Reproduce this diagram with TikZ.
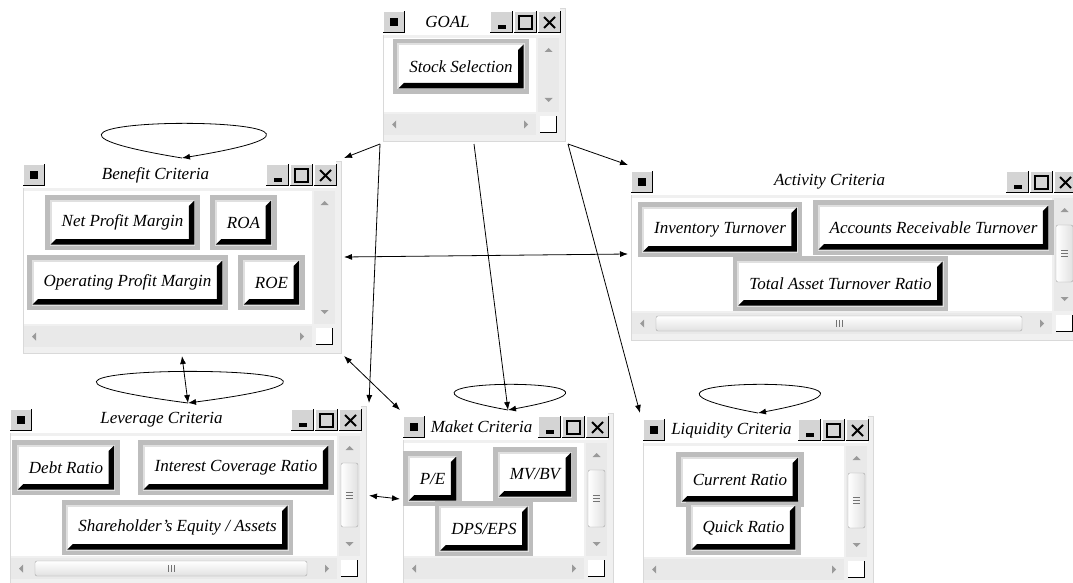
\documentclass[tikz,border=0pt]{standalone}
\usepackage{fontspec}
\setmainfont{Liberation Serif}
\usetikzlibrary{calc,positioning,arrows.meta}
\definecolor{winbg}{HTML}{F0F0F0}
\definecolor{winedge}{HTML}{D9D9D9}
\definecolor{barbg}{HTML}{E9E9E9}
\definecolor{btnface}{HTML}{D4D4D4}
\definecolor{cellgray}{HTML}{BDBDBD}
\definecolor{arrowgray}{HTML}{9A9A9A}

\begin{document}
\begin{tikzpicture}[x=1pt,y=-1pt,
    win/.style={draw=winedge, fill=winbg, inner sep=0pt, outer sep=3pt, anchor=north west},
    wintitle/.style={font=\fontsize{17}{19}\selectfont\itshape},
    cell/.style={fill=white, draw=black!12, line width=2pt, inner xsep=11pt, outer sep=0pt,
      minimum height=44pt, font=\fontsize{17}{19}\selectfont\itshape,
      preaction={draw=cellgray, line width=11pt}},
    link/.style={-{Latex[length=8pt,width=6pt]}, line width=0.8pt},
    both/.style={{Latex[length=8pt,width=6pt]}-{Latex[length=8pt,width=6pt]}, line width=0.8pt}]
  \useasboundingbox (0,0) rectangle (1073,583);
  \clip (0,0) rectangle (1073,583);
  \fill[white] (0,0) rectangle (1073,583);

  % windows with title bar and scroll bars
  \foreach \nm/\wx/\wy/\ww/\wh/\wt/\vs/\hs in {
      goal/380/5/182/133/GOAL/0/0,
      benefit/20/158/318/192/Benefit Criteria/0/0,
      activity/628/165/450/172/Activity Criteria/1/1,
      leverage/7/403/356/179/Leverage Criteria/1/1,
      maket/400/410/210/172/Maket Criteria/1/0,
      liquidity/640/413/230/170/Liquidity Criteria/1/0}
  {
    \node[win, minimum width=\ww, minimum height=\wh] (\nm) at (\wx,\wy) {};
    \begin{scope}[shift={(\wx,\wy)}]
      \fill[white] (2,2) rectangle (\ww-2,30);
      \fill[btnface] (3,6) rectangle (25,28);
      \draw[white, line width=1pt] (3.5,28) -- (3.5,6.5) -- (25,6.5);
      \draw[black, line width=1pt] (3,27.5) -- (24.5,27.5) -- (24.5,6);
      \fill[black] (10,13) rectangle (18,21);
      \foreach \k in {72,48,24} {
        \fill[btnface] (\ww-\k,6) rectangle (\ww-\k+23,28);
        \draw[white, line width=1pt] (\ww-\k+0.5,28) -- (\ww-\k+0.5,6.5) -- (\ww-\k+23,6.5);
        \draw[black, line width=1pt] (\ww-\k,27.5) -- (\ww-\k+22.5,27.5) -- (\ww-\k+22.5,6);
      }
      \fill[black] (\ww-64,20) rectangle (\ww-56,24);
      \draw[black, line width=1.5pt] (\ww-43,11) rectangle (\ww-30,24);
      \draw[black, line width=1.8pt] (\ww-18,12) -- (\ww-7,23) (\ww-7,12) -- (\ww-18,23);
      \node[wintitle] at (\ww/2-23.5,17) {\wt};
      \fill[white] (4,33) rectangle (\ww-26,\wh-26);
      \fill[barbg] (\ww-24,33) rectangle (\ww-3,\wh-26);
      \fill[barbg] (4,\wh-24) rectangle (\ww-26,\wh-3);
      \fill[arrowgray] (\ww-17.5,47) -- (\ww-9.5,47) -- (\ww-13.5,43) -- cycle;
      \fill[arrowgray] (\ww-17.5,\wh-40) -- (\ww-9.5,\wh-40) -- (\ww-13.5,\wh-36) -- cycle;
      \fill[arrowgray] (16,\wh-17.5) -- (16,\wh-9.5) -- (12,\wh-13.5) -- cycle;
      \fill[arrowgray] (\ww-38,\wh-17.5) -- (\ww-38,\wh-9.5) -- (\ww-34,\wh-13.5) -- cycle;
      \fill[white] (\ww-22,\wh-22) rectangle (\ww-5,\wh-5);
      \draw[black, line width=1pt] (\ww-22,\wh-5.5) -- (\ww-5.5,\wh-5.5) -- (\ww-5.5,\wh-22);
      \ifnum\vs=1
        \draw[black!35, rounded corners=2pt, left color=white, right color=black!12]
          (\ww-22,60) rectangle (\ww-5,\wh-55);
        \foreach \d in {-3,0,3}
          \draw[black!55] (\ww-17,\wh/2+2.5+\d) -- (\ww-10,\wh/2+2.5+\d);
      \fi
      \ifnum\hs=1
        \draw[black!35, rounded corners=2pt, top color=white, bottom color=black!12]
          (28,\wh-21) rectangle (\ww-56,\wh-6);
        \foreach \d in {-3,0,3}
          \draw[black!55] (\ww/2-14+\d,\wh-17) -- (\ww/2-14+\d,\wh-10);
      \fi
    \end{scope}
  }

  % criteria
  \node[cell] (stock) at (461,66.5) {Stock Selection};
  \node[cell] (npm) at (122.5,222.5) {Net Profit Margin};
  \node[cell] (roa) at (243.5,222.5) {ROA};
  \node[cell] (opm) at (127.5,282.5) {Operating Profit Margin};
  \node[cell] (roe) at (271.5,282.5) {ROE};
  \node[cell] (inv) at (720,229.5) {Inventory Turnover};
  \node[cell] (art) at (933.5,227.5) {Accounts Receivable Turnover};
  \node[cell] (tat) at (840.5,283.5) {Total Asset Turnover Ratio};
  \node[cell] (debt) at (66,467.5) {Debt Ratio};
  \node[cell] (icr) at (236,467.5) {Interest Coverage Ratio};
  \node[cell] (sea) at (177.5,527.5) {Shareholder's Equity / Assets};
  \node[cell] (pe) at (432.5,478.5) {P/E};
  \node[cell] (mvbv) at (535,474.5) {MV/BV};
  \node[cell] (dps) at (484,528.5) {DPS/EPS};
  \node[cell] (cur) at (740,479.5) {Current Ratio};
  \node[cell] (quick) at (743.5,527.5) {Quick Ratio};
  \foreach \b in {stock,npm,roa,opm,roe,inv,art,tat,debt,icr,sea,pe,mvbv,dps,cur,quick}
    \fill[black] (\b.south west) -- (\b.south east) -- (\b.north east)
      -- ($(\b.north east)+(-5.5,5.5)$) -- ($(\b.south east)+(-5.5,-5.5)$)
      -- ($(\b.south west)+(5.5,-5.5)$) -- cycle;

  % relations
  \draw[link] (benefit.north) .. controls +(-280,-46) and +(280,-46) .. (benefit.north);
  \draw[link] (leverage.north) .. controls +(-318,-42) and +(318,-42) .. (leverage.north);
  \draw[link] (maket.north) .. controls +(-187,-34) and +(187,-34) .. (maket.north);
  \draw[link] (liquidity.north) .. controls +(-204,-38) and +(204,-38) .. (liquidity.north);
  \draw[link] (goal.south west) -- (benefit.north east);
  \draw[link] (goal.south west) -- (leverage.north east);
  \draw[link] (goal.south) -- (maket.north);
  \draw[link] (goal.south east) -- (activity.north west);
  \draw[link] (goal.south east) -- (liquidity.north west);
  \draw[both] (benefit.east) -- (activity.west);
  \draw[both] (benefit.south) -- (leverage.north);
  \draw[both] (benefit.south east) -- (maket.north west);
  \draw[both] (leverage.east) -- (maket.west);
\end{tikzpicture}
\end{document}
